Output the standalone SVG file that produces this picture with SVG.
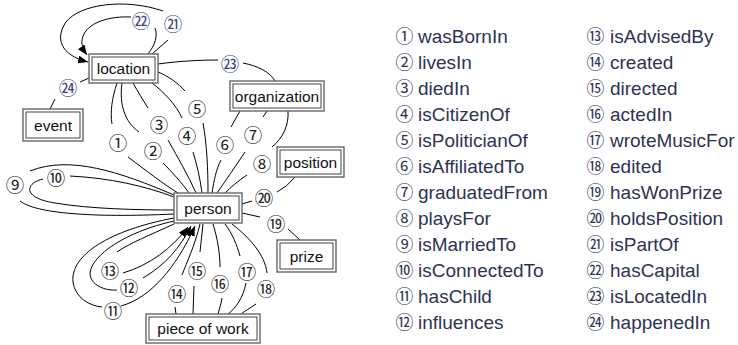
<svg xmlns="http://www.w3.org/2000/svg" width="738" height="345" viewBox="0 0 738 345">
<style>
.bo{fill:#fff;stroke:#666;stroke-width:1.4}
.bi{fill:none;stroke:#444;stroke-width:1}
.nt{font-family:"Liberation Sans",Arial,sans-serif;font-size:15.5px;fill:#111;text-anchor:middle}
.e{fill:none;stroke:#000;stroke-width:1}
.ea{fill:none;stroke:#000;stroke-width:1;marker-end:url(#ah)}
.lb{font-family:"Noto Sans CJK SC",sans-serif;font-size:18.5px;fill:#222;text-anchor:middle;dominant-baseline:central}
.lb2{fill:#3c4185}
.lg{font-family:"Liberation Sans","Noto Sans CJK SC",sans-serif;font-size:19px;fill:#2e3352}
.lgn{font-family:"Noto Sans CJK SC",sans-serif;font-size:17.9px}
</style>
<defs>
<marker id="ah" markerUnits="userSpaceOnUse" markerWidth="10" markerHeight="8" refX="10" refY="4" orient="auto">
<path d="M0,0 L10,4 L0,8 z" fill="#000"/>
</marker>
</defs>
<g id="connectors">
<path class="e" d="M117,83 C112,98 110,112 112,124"/>
<path class="e" d="M128,157 C148,172 162,183 178,193"/>
<path class="e" d="M122,83 C119,105 125,122 139,132"/>
<path class="e" d="M163,163 C173,173 182,183 189,193"/>
<path class="e" d="M133,83 C138,92 143,100 148,108"/>
<path class="e" d="M168,140 C178,158 188,175 196,193"/>
<path class="e" d="M152,83 C165,93 176,105 182,118"/>
<path class="e" d="M193,152 C197,165 200,178 202,193"/>
<path class="e" d="M158,72 C168,76 178,83 185,91"/>
<path class="e" d="M203,123 C207,145 208,170 208,193"/>
<path class="e" d="M212,193 C214,180 216,170 221,160"/>
<path class="e" d="M231,127 L240,111"/>
<path class="e" d="M245,152 C235,167 226,180 217,193"/>
<path class="e" d="M263,117 L267,111"/>
<path class="e" d="M288,111 C289,125 283,138 272,147"/>
<path class="e" d="M247,175 C238,181 231,187 225,193"/>
<path class="e" d="M174,195 C120,172 70,155 30,171"/>
<path class="e" d="M20,201 C35,213 90,218 174,214"/>
<path class="e" d="M70,176 C110,178 145,186 174,197"/>
<path class="e" d="M43,179 C25,183 22,198 55,203 C90,209 140,210 174,210"/>
<path class="e" d="M174,218 C110,230 70,255 73,282 C75,298 90,306 102,307"/>
<path class="ea" d="M121,306 C150,298 176,268 195,226"/>
<path class="e" d="M174,221 C125,232 92,255 90,273 C90,285 105,291 117,290"/>
<path class="ea" d="M143,278 C165,265 180,248 191,226"/>
<path class="e" d="M174,224 C150,235 130,243 117,252"/>
<path class="ea" d="M123,273 C150,265 172,248 188,227"/>
<path class="e" d="M200,224 C195,245 187,262 182,275"/>
<path class="e" d="M175,307 L176,314"/>
<path class="e" d="M203,224 L200,252"/>
<path class="e" d="M194,286 L193,314"/>
<path class="e" d="M213,224 C218,240 220,255 220,267"/>
<path class="e" d="M222,298 C221,305 219,310 218,314"/>
<path class="e" d="M225,224 C232,233 237,245 240,256"/>
<path class="e" d="M246,283 C243,298 236,308 228,314"/>
<path class="e" d="M232,224 C250,238 265,255 267,273"/>
<path class="e" d="M256,304 C250,308 245,311 241,314"/>
<path class="e" d="M242,213 L260,217"/>
<path class="e" d="M288,229 L300,240"/>
<path class="e" d="M242,204 L252,201"/>
<path class="e" d="M277,192 Q287,187 295,177"/>
<path class="e" d="M152,54 L168,40"/>
<path class="ea" d="M163,11 C125,-2 80,4 66,22 C55,38 60,55 88,62"/>
<path class="e" d="M148,54 C155,45 158,36 155,28"/>
<path class="ea" d="M131,17 C110,16 90,22 84,34 C80,42 82,48 87,55"/>
<path class="e" d="M158,64 C180,61 200,60 218,60"/>
<path class="e" d="M243,63 C258,66 270,72 275,81"/>
<path class="e" d="M89,78 L80,82"/>
<path class="e" d="M55,99 L50,109"/>
</g>
<g id="location"><rect class="bo" x="89" y="54" width="69" height="29"/><rect class="bi" x="92" y="57" width="63" height="23"/><text class="nt" x="123.5" y="74">location</text></g>
<g id="event"><rect class="bo" x="23" y="109" width="60" height="32"/><rect class="bi" x="26" y="112" width="54" height="26"/><text class="nt" x="53" y="131">event</text></g>
<g id="organization"><rect class="bo" x="230" y="81" width="94" height="30"/><rect class="bi" x="233" y="84" width="88" height="24"/><text class="nt" x="277" y="102">organization</text></g>
<g id="position"><rect class="bo" x="277" y="147" width="67" height="30"/><rect class="bi" x="280" y="150" width="61" height="24"/><text class="nt" x="310.5" y="168">position</text></g>
<g id="person"><rect class="bo" x="174" y="193" width="68" height="30"/><rect class="bi" x="177" y="196" width="62" height="24"/><text class="nt" x="208" y="214">person</text></g>
<g id="prize"><rect class="bo" x="277" y="240" width="59" height="32"/><rect class="bi" x="280" y="243" width="53" height="26"/><text class="nt" x="306.5" y="262">prize</text></g>
<g id="piece_of_work"><rect class="bo" x="146" y="314" width="114" height="29"/><rect class="bi" x="149" y="317" width="108" height="23"/><text class="nt" x="203" y="334">piece of work</text></g>
<g id="labels">
<text class="lb" x="118" y="142">①</text>
<text class="lb" x="153" y="150">②</text>
<text class="lb" x="159" y="124">③</text>
<text class="lb" x="187" y="135">④</text>
<text class="lb" x="197" y="108">⑤</text>
<text class="lb" x="225" y="144">⑥</text>
<text class="lb" x="253" y="134">⑦</text>
<text class="lb" x="262" y="163">⑧</text>
<text class="lb" x="15" y="184">⑨</text>
<text class="lb" x="56" y="177">⑩</text>
<text class="lb" x="113" y="310">⑪</text>
<text class="lb" x="129" y="287">⑫</text>
<text class="lb" x="110" y="270">⑬</text>
<text class="lb" x="177" y="293">⑭</text>
<text class="lb" x="197" y="270">⑮</text>
<text class="lb" x="220" y="283">⑯</text>
<text class="lb" x="247" y="271">⑰</text>
<text class="lb" x="266" y="288">⑱</text>
<text class="lb" x="276" y="223">⑲</text>
<text class="lb" x="264" y="197">⑳</text>
<text class="lb lb2" x="173" y="23">㉑</text>
<text class="lb lb2" x="141" y="20">㉒</text>
<text class="lb lb2" x="230" y="63">㉓</text>
<text class="lb lb2" x="68" y="87">㉔</text>
</g>
<g id="legend" class="lg">
<text y="42.5"><tspan class="lgn" x="395.5">①</tspan><tspan x="418">wasBornIn</tspan></text>
<text y="68.5"><tspan class="lgn" x="395.5">②</tspan><tspan x="418">livesIn</tspan></text>
<text y="94.5"><tspan class="lgn" x="395.5">③</tspan><tspan x="418">diedIn</tspan></text>
<text y="120.5"><tspan class="lgn" x="395.5">④</tspan><tspan x="418">isCitizenOf</tspan></text>
<text y="146.5"><tspan class="lgn" x="395.5">⑤</tspan><tspan x="418">isPoliticianOf</tspan></text>
<text y="172.5"><tspan class="lgn" x="395.5">⑥</tspan><tspan x="418">isAffiliatedTo</tspan></text>
<text y="198.5"><tspan class="lgn" x="395.5">⑦</tspan><tspan x="418">graduatedFrom</tspan></text>
<text y="224.5"><tspan class="lgn" x="395.5">⑧</tspan><tspan x="418">playsFor</tspan></text>
<text y="250.5"><tspan class="lgn" x="395.5">⑨</tspan><tspan x="418">isMarriedTo</tspan></text>
<text y="276.5"><tspan class="lgn" x="395.5">⑩</tspan><tspan x="418">isConnectedTo</tspan></text>
<text y="302.5"><tspan class="lgn" x="395.5">⑪</tspan><tspan x="418">hasChild</tspan></text>
<text y="328.5"><tspan class="lgn" x="395.5">⑫</tspan><tspan x="418">influences</tspan></text>
<text y="42.5"><tspan class="lgn" x="586.5">⑬</tspan><tspan x="610">isAdvisedBy</tspan></text>
<text y="68.5"><tspan class="lgn" x="586.5">⑭</tspan><tspan x="610">created</tspan></text>
<text y="94.5"><tspan class="lgn" x="586.5">⑮</tspan><tspan x="610">directed</tspan></text>
<text y="120.5"><tspan class="lgn" x="586.5">⑯</tspan><tspan x="610">actedIn</tspan></text>
<text y="146.5"><tspan class="lgn" x="586.5">⑰</tspan><tspan x="610">wroteMusicFor</tspan></text>
<text y="172.5"><tspan class="lgn" x="586.5">⑱</tspan><tspan x="610">edited</tspan></text>
<text y="198.5"><tspan class="lgn" x="586.5">⑲</tspan><tspan x="610">hasWonPrize</tspan></text>
<text y="224.5"><tspan class="lgn" x="586.5">⑳</tspan><tspan x="610">holdsPosition</tspan></text>
<text y="250.5"><tspan class="lgn" x="586.5">㉑</tspan><tspan x="610">isPartOf</tspan></text>
<text y="276.5"><tspan class="lgn" x="586.5">㉒</tspan><tspan x="610">hasCapital</tspan></text>
<text y="302.5"><tspan class="lgn" x="586.5">㉓</tspan><tspan x="610">isLocatedIn</tspan></text>
<text y="328.5"><tspan class="lgn" x="586.5">㉔</tspan><tspan x="610">happenedIn</tspan></text>
</g>
</svg>
